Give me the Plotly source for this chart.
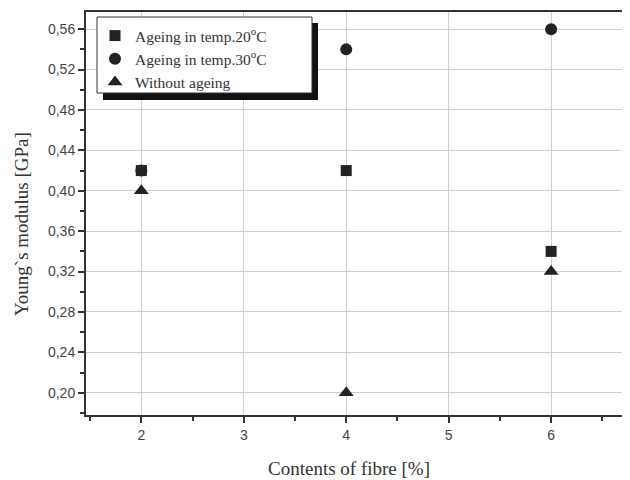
import plotly.graph_objects as go

fibre = [2, 4, 6]
ageing20 = [0.42, 0.42, 0.34]
ageing30 = [0.42, 0.54, 0.56]
no_ageing = [0.40, 0.20, 0.32]

y_ticks = [0.20, 0.24, 0.28, 0.32, 0.36, 0.40, 0.44, 0.48, 0.52, 0.56]
y_labels = ["0,20", "0,24", "0,28", "0,32", "0,36", "0,40", "0,44", "0,48", "0,52", "0,56"]
x_ticks = [2, 3, 4, 5, 6]

W, H = 630, 480
O = 8  # page body margin offset
# desired plot area on screen: x 86..630, y 12..415
L, R, T, B = 86 - O, W - (630 - O), 12 - O, H - (415 - O)
serif = "Liberation Serif, Times New Roman, serif"

fig = go.Figure()
fig.add_trace(go.Scatter(x=fibre, y=ageing20, mode="markers", name="Ageing in temp.20<sup>o</sup>C",
                         marker=dict(symbol="square", size=11, color="#222222")))
fig.add_trace(go.Scatter(x=fibre, y=ageing30, mode="markers", name="Ageing in temp.30<sup>o</sup>C",
                         marker=dict(symbol="circle", size=12, color="#222222")))
fig.add_trace(go.Scatter(x=fibre, y=no_ageing, mode="markers", name="Without ageing",
                         marker=dict(symbol="triangle-up", size=13, color="#222222")))

pw = W - L - R
ph = H - T - B
def px_x(sx):
    return (sx - O - L) / pw
def px_y(sy):
    return 1 - (sy - O - T) / ph

# legend shadow and box
fig.add_shape(type="rect", xref="paper", yref="paper",
              x0=px_x(103), x1=px_x(318), y0=px_y(100), y1=px_y(23),
              fillcolor="#111111", line=dict(width=0), layer="above")
fig.add_shape(type="rect", xref="paper", yref="paper",
              x0=px_x(97), x1=px_x(312), y0=px_y(93), y1=px_y(17),
              fillcolor="white", line=dict(width=1, color="#333333"), layer="above")

fig.add_annotation(text="Contents of fibre [%]", xref="paper", yref="paper",
                   x=px_x(349), y=px_y(468), xanchor="center", yanchor="middle",
                   showarrow=False, font=dict(family=serif, size=19, color="#333333"))
fig.add_annotation(text="Young`s modulus [GPa]", xref="paper", yref="paper",
                   x=px_x(21), y=px_y(224), xanchor="center", yanchor="middle", textangle=-90,
                   showarrow=False, font=dict(family=serif, size=19, color="#333333"))

fig.update_layout(
    width=W, height=H,
    margin=dict(l=L, r=R, t=T, b=B, autoexpand=False),
    paper_bgcolor="white", plot_bgcolor="white",
    font=dict(family="Liberation Sans, Arial", size=13, color="#333333"),
    showlegend=True,
    legend=dict(x=px_x(95), y=px_y(19), xanchor="left", yanchor="top",
                bgcolor="rgba(0,0,0,0)", borderwidth=0,
                font=dict(family=serif, size=15.5, color="#333333"),
                itemsizing="trace", tracegroupgap=0),
    xaxis=dict(range=[1.46, 6.77], tickmode="array", tickvals=x_ticks, automargin=False,
               showgrid=True, gridcolor="#cfcfcf", gridwidth=1,
               showline=True, linecolor="#333333", linewidth=2, mirror=True,
               ticks="outside", ticklen=6, tickcolor="#333333", tickwidth=1.5,
               minor=dict(dtick=0.5, tick0=0, ticks="outside", ticklen=4, tickcolor="#333333", showgrid=False),
               zeroline=False,
               tickfont=dict(size=14, color="#444444")),
    yaxis=dict(range=[0.178, 0.577], tickmode="array", tickvals=y_ticks, ticktext=y_labels, automargin=False,
               showgrid=True, gridcolor="#cfcfcf", gridwidth=1,
               showline=True, linecolor="#333333", linewidth=2, mirror=True,
               ticks="outside", ticklen=6, tickcolor="#333333", tickwidth=1.5,
               minor=dict(dtick=0.02, tick0=0, ticks="outside", ticklen=4, tickcolor="#333333", showgrid=False),
               zeroline=False,
               tickfont=dict(size=14, color="#444444")),
)

fig.write_html("out.html")
